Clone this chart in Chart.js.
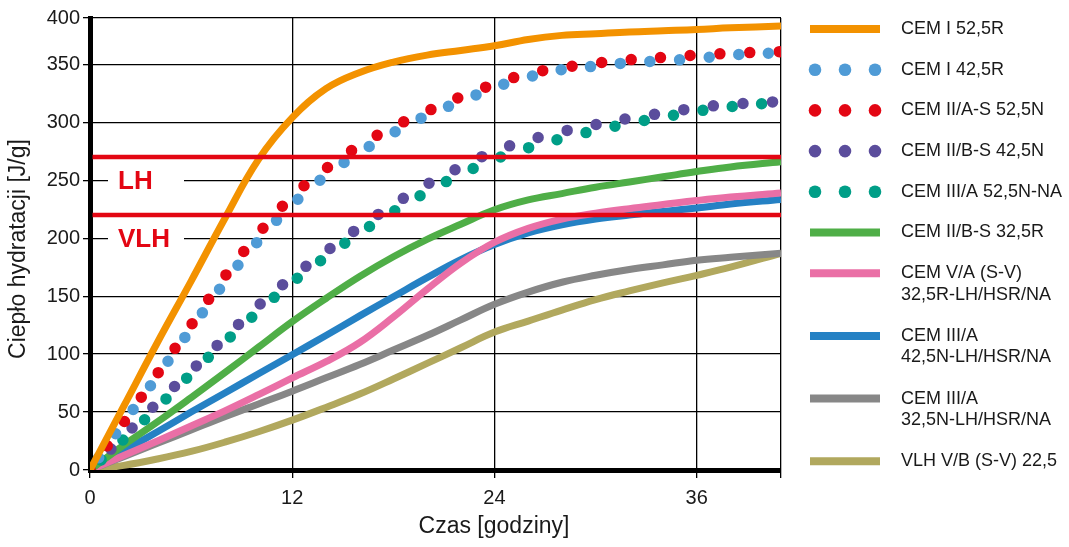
<!DOCTYPE html>
<html>
<head>
<meta charset="utf-8">
<script src="https://cdn.jsdelivr.net/npm/chart.js@4.4.1/dist/chart.umd.min.js"></script>
<style>
  html, body { margin: 0; padding: 0; background: #fff; }
  #wrap { width: 1069px; height: 547px; }
</style>
</head>
<body>
<div id="wrap"><canvas id="heatChart" width="1069" height="547"></canvas></div>
<script>
// hours after mixing
const hours = [0, 2, 4, 6, 8, 10, 12, 14, 16, 18, 20, 22, 24, 26, 28, 30, 32, 34, 36, 38, 41];

// heat of hydration [J/g]
const cemI525R    = [0, 55, 110, 163, 217, 268, 304, 329, 343, 352, 358, 362, 366, 371.5, 375, 376.5, 378, 379, 380, 381.5, 383];
const cemI425R    = [0, 41, 81, 122, 162, 198, 229, 254, 274, 291, 306, 318, 330, 339, 345.5, 348.5, 351.5, 353, 355, 358, 360];
const cemIIAS525N = [0, 41, 83, 125, 167, 204, 236, 260, 280, 296, 309.5, 322, 333, 342, 347, 351, 354, 356, 358, 359.5, 361];
const cemIIBS425N = [0, 29, 58, 85.5, 114, 142, 166.5, 188.5, 209.5, 229, 246.5, 261.5, 275, 284.5, 292, 298, 303.5, 308, 312.5, 315.5, 318];
const cemIIIA525N = [0, 26.5, 54, 83, 110.5, 137, 162, 184, 204.5, 223, 240, 255, 268, 278, 286, 293, 299, 304.5, 309.5, 313.5, 317.5];
const cemIIBS325R = [0, 21.5, 41.5, 62.5, 84, 106, 128, 148, 167, 184, 199, 212, 224.5, 233, 238.5, 244, 248.5, 253, 257.5, 261.5, 266];
const cemVA325R   = [0, 12.5, 25, 38, 51, 65, 79.5, 93.5, 110, 132, 156, 178.5, 196.5, 208.5, 216.5, 221.5, 225.5, 229, 232.5, 235.5, 239];
const cemIIIA425N = [0, 16.5, 33, 50, 66.5, 83, 99.5, 116, 133, 149.5, 166, 181.5, 194.5, 204.5, 211.5, 216.5, 220, 223, 226, 229.5, 233.5];
const cemIIIA325N = [0, 11.5, 23, 34.5, 46, 57, 68, 79.5, 91, 103.5, 116, 129.5, 143, 153.5, 162, 168, 173, 177, 181, 183.5, 187];
const vlhVB225    = [0, 4, 9.5, 16, 24, 33, 43, 54, 65.5, 78.5, 92, 105.5, 119, 128.5, 138, 147, 154.5, 161.5, 168, 175, 187];

const seriesNames = [
  'CEM I 52,5R',
  'CEM I 42,5R',
  'CEM II/A-S 52,5N',
  'CEM II/B-S 42,5N',
  'CEM III/A 52,5N-NA',
  'CEM II/B-S 32,5R',
  'CEM V/A (S-V)\n32,5R-LH/HSR/NA',
  'CEM III/A\n42,5N-LH/HSR/NA',
  'CEM III/A\n32,5N-LH/HSR/NA',
  'VLH V/B (S-V) 22,5'
];
const seriesValues = [cemI525R, cemI425R, cemIIAS525N, cemIIBS425N, cemIIIA525N,
                      cemIIBS325R, cemVA325R, cemIIIA425N, cemIIIA325N, vlhVB225];
const seriesColors = ['#f39200', '#4f9bd6', '#e30613', '#5b4d9c', '#009e87',
                      '#4fae47', '#ea6fa6', '#2581c4', '#878787', '#b1a85e'];
const dotted = [false, true, true, true, true, false, false, false, false, false];
const dotPhase = [0, 14.8, 0, 0, 14.8, 0, 0, 0, 0, 0];

const xTickValues = [0, 12, 24, 36, 41];
const xTickLabels = ['0', '12', '24', '36', ''];
// top gridline of the original is labelled 400 although it sits at ~390
const yTickValues = [0, 50, 100, 150, 200, 250, 300, 350, 390];
const yTickLabels = ['0', '50', '100', '150', '200', '250', '300', '350', '400'];

const limitNames = ['LH', 'VLH'];
const limitValues = [270, 220];

const FONT = '"Liberation Sans", Arial, Helvetica, sans-serif';
const TEXT = '#1a1a1a';

const datasets = seriesValues.map((vals, i) => {
  const ds = {
    label: seriesNames[i],
    data: hours.map((h, j) => ({ x: h, y: vals[j] })),
    borderColor: seriesColors[i],
    backgroundColor: seriesColors[i],
    pointRadius: 0,
    fill: false,
    tension: 0.4
  };
  if (dotted[i]) {
    ds.borderWidth = 11.5;
    ds.borderDash = [0, 29.7];
    ds.borderDashOffset = dotPhase[i];
    ds.borderCapStyle = 'round';
  } else {
    ds.borderWidth = 7;
    ds.borderCapStyle = 'butt';
  }
  return ds;
});

const limitLines = {
  id: 'limitLines',
  afterDatasetsDraw(chart) {
    const { ctx, chartArea, scales } = chart;
    ctx.save();
    limitValues.forEach((v, i) => {
      const y = scales.y.getPixelForValue(v);
      ctx.strokeStyle = '#e30613';
      ctx.lineWidth = 4.5;
      ctx.beginPath();
      ctx.moveTo(chartArea.left + 2.5, y);
      ctx.lineTo(chartArea.right, y);
      ctx.stroke();

      ctx.fillStyle = '#fff';
      ctx.fillRect(108, y + 10, 76, 28);
      ctx.fillStyle = '#e30613';
      ctx.font = 'bold 26px ' + FONT;
      ctx.textBaseline = 'middle';
      ctx.textAlign = 'left';
      ctx.fillText(limitNames[i], 118, y + 25);
    });
    ctx.restore();
  }
};

const sideLegend = {
  id: 'sideLegend',
  afterDraw(chart) {
    const ctx = chart.ctx;
    ctx.save();
    ctx.textBaseline = 'middle';
    ctx.textAlign = 'left';
    ctx.font = '18px ' + FONT;
    let y = 29;
    chart.data.datasets.forEach(ds => {
      const lines = ds.label.split('\n');
      if (ds.borderDash && ds.borderDash.length) {
        ctx.fillStyle = ds.borderColor;
        [815, 845, 875].forEach(cx => {
          ctx.beginPath();
          ctx.arc(cx, y, 6.3, 0, Math.PI * 2);
          ctx.fill();
        });
      } else {
        ctx.strokeStyle = ds.borderColor;
        ctx.lineWidth = 8;
        ctx.beginPath();
        ctx.moveTo(810, y);
        ctx.lineTo(880, y);
        ctx.stroke();
      }
      ctx.fillStyle = TEXT;
      lines.forEach((t, k) => ctx.fillText(t, 901, y + k * 21.5));
      y += 40.7 + (lines.length - 1) * 22;
    });

    // axis titles
    ctx.font = '23px ' + FONT;
    ctx.textAlign = 'center';
    ctx.fillText('Czas [godziny]', 494, 527);
    ctx.translate(19, 249);
    ctx.rotate(-Math.PI / 2);
    ctx.fillText('Ciepło hydratacji [J/g]', 0, 0);
    ctx.restore();
  }
};

new Chart(document.getElementById('heatChart'), {
  type: 'line',
  data: { datasets },
  options: {
    responsive: false,
    animation: false,
    devicePixelRatio: 1,
    layout: { padding: { left: 0, top: 18, right: 288, bottom: 0 } },
    plugins: {
      legend: { display: false },
      tooltip: { enabled: false }
    },
    scales: {
      x: {
        type: 'linear',
        min: 0,
        max: 41,
        afterBuildTicks: s => { s.ticks = xTickValues.map(v => ({ value: v })); },
        afterFit: s => { s.height = 77; },
        grid: { color: '#000', lineWidth: 1.3, tickLength: 8 },
        border: { color: '#000', width: 5 },
        ticks: {
          color: TEXT,
          font: { size: 20, family: FONT },
          padding: 8,
          maxRotation: 0,
          autoSkip: false,
          callback: (v, i) => xTickLabels[i]
        }
      },
      y: {
        type: 'linear',
        min: 0,
        max: 390,
        afterBuildTicks: s => { s.ticks = yTickValues.map(v => ({ value: v })); },
        afterFit: s => { s.width = 90; },
        grid: { color: '#000', lineWidth: 1.3, tickLength: 7 },
        border: { color: '#000', width: 5 },
        ticks: {
          color: TEXT,
          font: { size: 20, family: FONT },
          padding: 3,
          autoSkip: false,
          callback: (v, i) => yTickLabels[i]
        }
      }
    }
  },
  plugins: [limitLines, sideLegend]
});
</script>
</body>
</html>
